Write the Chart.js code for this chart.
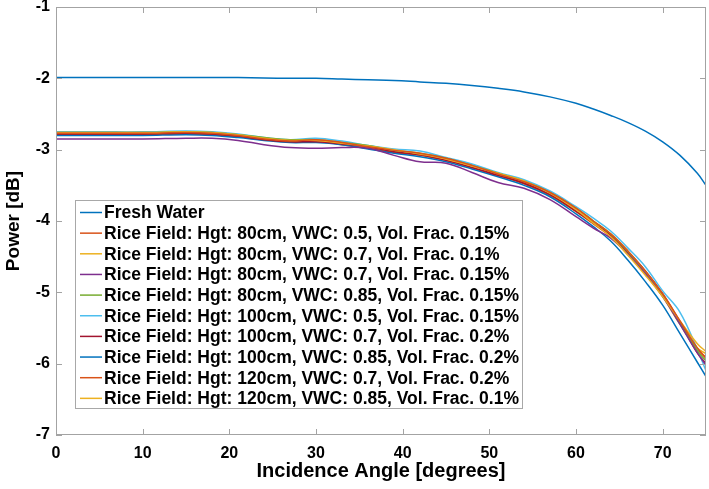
<!DOCTYPE html>
<html><head><meta charset="utf-8">
<script src="https://cdn.jsdelivr.net/npm/chart.js@4.4.1/dist/chart.umd.min.js"></script>
<style>html,body{margin:0;padding:0;background:#fff;overflow:hidden;}</style>
</head><body>
<canvas id="c" width="709" height="489" style="display:block;width:709px;height:489px"></canvas>
<script>
const angles = [0,5,10,15,18,21,24,27,30,33,36,39,42,45,48,51,54,57,60,62,64,66,68,70,72,74,75];
const freshWater = [-1.99,-1.99,-1.99,-1.99,-1.99,-1.99,-1.995,-2.0,-2.0,-2.01,-2.02,-2.03,-2.05,-2.07,-2.10,-2.14,-2.19,-2.26,-2.35,-2.43,-2.52,-2.62,-2.74,-2.89,-3.08,-3.33,-3.50];
const rice80_05_015 = [-2.77,-2.77,-2.77,-2.76,-2.77,-2.80,-2.85,-2.88,-2.86,-2.90,-2.96,-3.01,-3.05,-3.12,-3.22,-3.34,-3.45,-3.60,-3.82,-4.00,-4.18,-4.42,-4.70,-5.02,-5.40,-5.78,-5.92];
const rice80_07_01 = [-2.76,-2.76,-2.76,-2.75,-2.76,-2.79,-2.84,-2.87,-2.87,-2.91,-2.95,-3.00,-3.06,-3.13,-3.23,-3.33,-3.44,-3.61,-3.84,-4.03,-4.22,-4.48,-4.76,-5.06,-5.40,-5.72,-5.83];
const rice80_07_015 = [-2.85,-2.85,-2.85,-2.84,-2.84,-2.87,-2.93,-2.97,-2.98,-2.97,-2.98,-3.08,-3.17,-3.19,-3.32,-3.46,-3.54,-3.70,-3.94,-4.10,-4.24,-4.47,-4.74,-5.06,-5.45,-5.85,-6.02];
const rice80_085_015 = [-2.76,-2.76,-2.76,-2.75,-2.76,-2.79,-2.83,-2.86,-2.86,-2.90,-2.94,-3.01,-3.05,-3.12,-3.22,-3.33,-3.44,-3.60,-3.82,-4.00,-4.18,-4.43,-4.71,-5.04,-5.44,-5.82,-5.96];
const rice100_05_015 = [-2.75,-2.75,-2.75,-2.74,-2.75,-2.78,-2.83,-2.86,-2.84,-2.88,-2.94,-2.99,-3.02,-3.11,-3.20,-3.32,-3.42,-3.58,-3.80,-3.96,-4.14,-4.38,-4.64,-4.98,-5.28,-5.80,-6.10];
const rice100_07_02 = [-2.78,-2.78,-2.78,-2.77,-2.78,-2.81,-2.86,-2.89,-2.89,-2.92,-2.96,-3.03,-3.07,-3.15,-3.25,-3.36,-3.47,-3.63,-3.86,-4.03,-4.20,-4.44,-4.70,-5.02,-5.42,-5.85,-6.00];
const rice100_085_02 = [-2.80,-2.80,-2.80,-2.79,-2.80,-2.83,-2.87,-2.90,-2.90,-2.93,-2.99,-3.05,-3.10,-3.17,-3.27,-3.38,-3.50,-3.66,-3.90,-4.08,-4.28,-4.55,-4.85,-5.18,-5.58,-5.98,-6.18];
const rice120_07_02 = [-2.79,-2.79,-2.79,-2.78,-2.79,-2.82,-2.86,-2.88,-2.87,-2.93,-2.98,-3.04,-3.08,-3.15,-3.25,-3.36,-3.48,-3.64,-3.87,-4.04,-4.22,-4.47,-4.74,-5.05,-5.42,-5.80,-5.92];
const rice120_085_01 = [-2.77,-2.77,-2.77,-2.76,-2.77,-2.80,-2.84,-2.88,-2.88,-2.91,-2.96,-3.02,-3.06,-3.14,-3.23,-3.34,-3.46,-3.62,-3.85,-4.02,-4.21,-4.46,-4.74,-5.06,-5.45,-5.78,-5.86];

const seriesLabels = [
  'Fresh Water',
  'Rice Field: Hgt: 80cm, VWC: 0.5, Vol. Frac. 0.15%',
  'Rice Field: Hgt: 80cm, VWC: 0.7, Vol. Frac. 0.1%',
  'Rice Field: Hgt: 80cm, VWC: 0.7, Vol. Frac. 0.15%',
  'Rice Field: Hgt: 80cm, VWC: 0.85, Vol. Frac. 0.15%',
  'Rice Field: Hgt: 100cm, VWC: 0.5, Vol. Frac. 0.15%',
  'Rice Field: Hgt: 100cm, VWC: 0.7, Vol. Frac. 0.2%',
  'Rice Field: Hgt: 100cm, VWC: 0.85, Vol. Frac. 0.2%',
  'Rice Field: Hgt: 120cm, VWC: 0.7, Vol. Frac. 0.2%',
  'Rice Field: Hgt: 120cm, VWC: 0.85, Vol. Frac. 0.1%'
];
const seriesValues = [freshWater, rice80_05_015, rice80_07_01, rice80_07_015, rice80_085_015,
  rice100_05_015, rice100_07_02, rice100_085_02, rice120_07_02, rice120_085_01];
const seriesColors = ['#0072BD','#D95319','#EDB120','#7E2F8E','#77AC30','#4DBEEE','#A2142F','#0072BD','#D95319','#EDB120'];

const xTicks = [0,10,20,30,40,50,60,70];
const yTicks = [-7,-6,-5,-4,-3,-2,-1];

const FONT = "'Liberation Sans', Arial, Helvetica, sans-serif";

const boxPlugin = {
  id: 'matlabBox',
  afterDatasetsDraw(chart) {
    const {ctx, chartArea: a, scales: {x, y}} = chart;
    ctx.save();
    ctx.strokeStyle = '#a3a3a3';
    ctx.lineWidth = 1;
    ctx.strokeRect(a.left + 0.5, a.top + 0.5, a.right - a.left - 1, a.bottom - a.top - 1);
    const L = 6;
    ctx.beginPath();
    x.ticks.forEach(t => {
      const px = Math.round(x.getPixelForValue(t.value)) + 0.5;
      ctx.moveTo(px, a.bottom); ctx.lineTo(px, a.bottom - L);
      ctx.moveTo(px, a.top); ctx.lineTo(px, a.top + L);
    });
    y.ticks.forEach(t => {
      const py = Math.round(y.getPixelForValue(t.value)) + 0.5;
      ctx.moveTo(a.left, py); ctx.lineTo(a.left + L, py);
      ctx.moveTo(a.right, py); ctx.lineTo(a.right - L, py);
    });
    ctx.stroke();

    // legend inside the axes
    const lx = a.left + 19, ly = a.top + 193, lw = 447, lh = 208;
    ctx.fillStyle = '#fff';
    ctx.fillRect(lx, ly, lw, lh);
    ctx.strokeStyle = '#a8a8a8';
    ctx.strokeRect(lx + 0.5, ly + 0.5, lw, lh);
    ctx.font = 'bold 17.5px ' + FONT;
    ctx.textBaseline = 'middle';
    ctx.textAlign = 'left';
    chart.data.datasets.forEach((ds, i) => {
      const cy = ly + 12.5 + i * 20.65;
      ctx.strokeStyle = ds.borderColor;
      ctx.lineWidth = 1.5;
      ctx.beginPath();
      ctx.moveTo(lx + 5, cy); ctx.lineTo(lx + 27, cy);
      ctx.stroke();
      ctx.fillStyle = '#000';
      ctx.fillText(ds.label, lx + 29, cy + 1);
    });
    ctx.restore();
  }
};

new Chart(document.getElementById('c'), {
  type: 'line',
  data: {
    datasets: seriesValues.map((vals, i) => ({
      label: seriesLabels[i],
      data: angles.map((a, j) => ({x: a, y: vals[j]})),
      borderColor: seriesColors[i],
      backgroundColor: seriesColors[i],
      borderWidth: 1.5,
      pointRadius: 0,
      tension: 0.4,
      fill: false
    }))
  },
  options: {
    responsive: false,
    animation: false,
    devicePixelRatio: 1,
    layout: {padding: {top: 7, right: 3, left: 0, bottom: 0}},
    plugins: {legend: {display: false}, tooltip: {enabled: false}},
    scales: {
      x: {
        type: 'linear', min: 0, max: 75,
        afterBuildTicks: s => { s.ticks = xTicks.map(v => ({value: v})); },
        afterFit: s => { s.height = 54; s.paddingLeft = 0; s.paddingRight = 0; },
        grid: {display: false, drawTicks: false}, border: {display: false},
        ticks: {padding: 9, color: '#000', font: {family: FONT, weight: 'bold', size: 16}},
        title: {display: true, text: 'Incidence Angle [degrees]', color: '#000',
          font: {family: FONT, weight: 'bold', size: 20}, padding: {top: 0, bottom: 6}}
      },
      y: {
        type: 'linear', min: -7, max: -1,
        afterBuildTicks: s => { s.ticks = yTicks.map(v => ({value: v})); },
        afterFit: s => { s.width = 56; s.paddingTop = 0; s.paddingBottom = 0; },
        grid: {display: false, drawTicks: false}, border: {display: false},
        ticks: {padding: 6, color: '#000', font: {family: FONT, weight: 'bold', size: 16},
          callback: v => String(v)},
        title: {display: true, text: 'Power [dB]', color: '#000',
          font: {family: FONT, weight: 'bold', size: 19}, padding: {top: 2, bottom: 0}}
      }
    }
  },
  plugins: [boxPlugin]
});
</script>
</body></html>
